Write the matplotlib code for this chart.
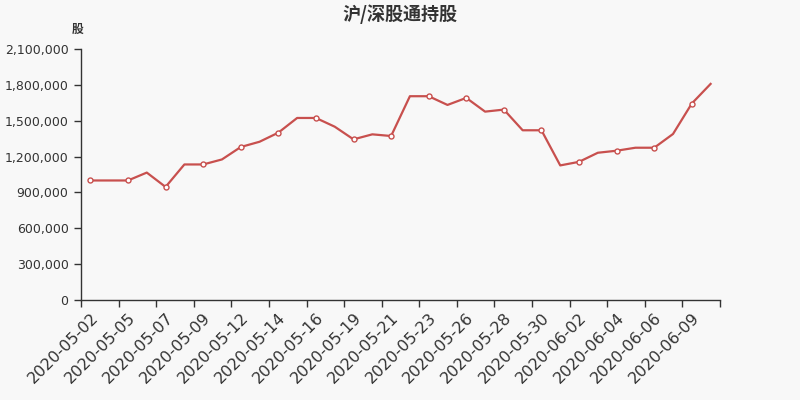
import matplotlib
matplotlib.use("Agg")
import matplotlib.pyplot as plt
from matplotlib.ticker import FuncFormatter, MultipleLocator, FixedLocator

plt.rcParams['font.family'] = ['DejaVu Sans', 'Noto Sans CJK SC']

dates = ["2020-05-02", "2020-05-04", "2020-05-05", "2020-05-06", "2020-05-07", "2020-05-08",
         "2020-05-09", "2020-05-11", "2020-05-12", "2020-05-13", "2020-05-14", "2020-05-15",
         "2020-05-16", "2020-05-18", "2020-05-19", "2020-05-20", "2020-05-21", "2020-05-22",
         "2020-05-23", "2020-05-25", "2020-05-26", "2020-05-27", "2020-05-28", "2020-05-29",
         "2020-05-30", "2020-06-01", "2020-06-02", "2020-06-03", "2020-06-04", "2020-06-05",
         "2020-06-06", "2020-06-08", "2020-06-09", "2020-06-10"]
holdings = [1000000, 1000000, 1000000, 1066000, 946000, 1134000,
            1134000, 1176000, 1280000, 1324000, 1400000, 1523000,
            1523000, 1450000, 1344000, 1386000, 1372000, 1705000,
            1705000, 1632000, 1691000, 1576000, 1593000, 1420000,
            1420000, 1126000, 1156000, 1232000, 1249000, 1274000,
            1274000, 1389000, 1644000, 1808000]

title = "沪/深股通持股"
unit = "股"
line_color = "#c8504e"
bg = "#f8f8f8"
txt = "#333333"
cjk = ['Noto Sans CJK SC', 'DejaVu Sans']

fig = plt.figure(figsize=(8, 4), dpi=100, facecolor=bg)
ax = fig.add_axes([81/800, 100/400, 639/800, 251/400], facecolor=bg)

x = list(range(len(dates)))
ax.plot(x, holdings, color=line_color, lw=1.6, zorder=2, solid_joinstyle='round')
ax.plot(x[::2], holdings[::2], ls='none', marker='o', ms=3.6, mfc='white',
        mec=line_color, mew=1, zorder=3)

ax.set_xlim(-0.5, len(dates) - 0.5)
ax.set_ylim(0, 2100000)
ax.yaxis.set_major_locator(MultipleLocator(300000))
ax.yaxis.set_major_formatter(FuncFormatter(lambda v, p: f"{int(v):,}"))

ax.xaxis.set_major_locator(FixedLocator([i - 0.5 for i in range(0, len(dates) + 1, 2)]))
ax.xaxis.set_major_formatter(FuncFormatter(lambda v, p: ""))
ax.set_xticks(x[::2], minor=True)
ax.set_xticklabels([dates[i] for i in x[::2]], minor=True, rotation=45, ha='right',
                   rotation_mode='anchor', fontsize=11.5, color=txt)
ax.tick_params(axis='x', which='minor', length=0, pad=7)
ax.tick_params(axis='x', which='major', length=5, width=1, color=txt)
ax.tick_params(axis='y', length=5, width=1, color=txt, labelsize=9, labelcolor=txt, pad=4)

for s in ['top', 'right']:
    ax.spines[s].set_visible(False)
for s in ['left', 'bottom']:
    ax.spines[s].set_color(txt)
    ax.spines[s].set_linewidth(1)

fig.text(0.5, 1 - 14/400, title, ha='center', va='center', fontsize=13,
         fontweight='bold', color=txt, family=cjk)
fig.text(78/800, 1 - 29/400, unit, ha='center', va='center', fontsize=8.5, color=txt,
         fontweight='bold', family=cjk)

fig.savefig("out.png", dpi=100, facecolor=bg)
